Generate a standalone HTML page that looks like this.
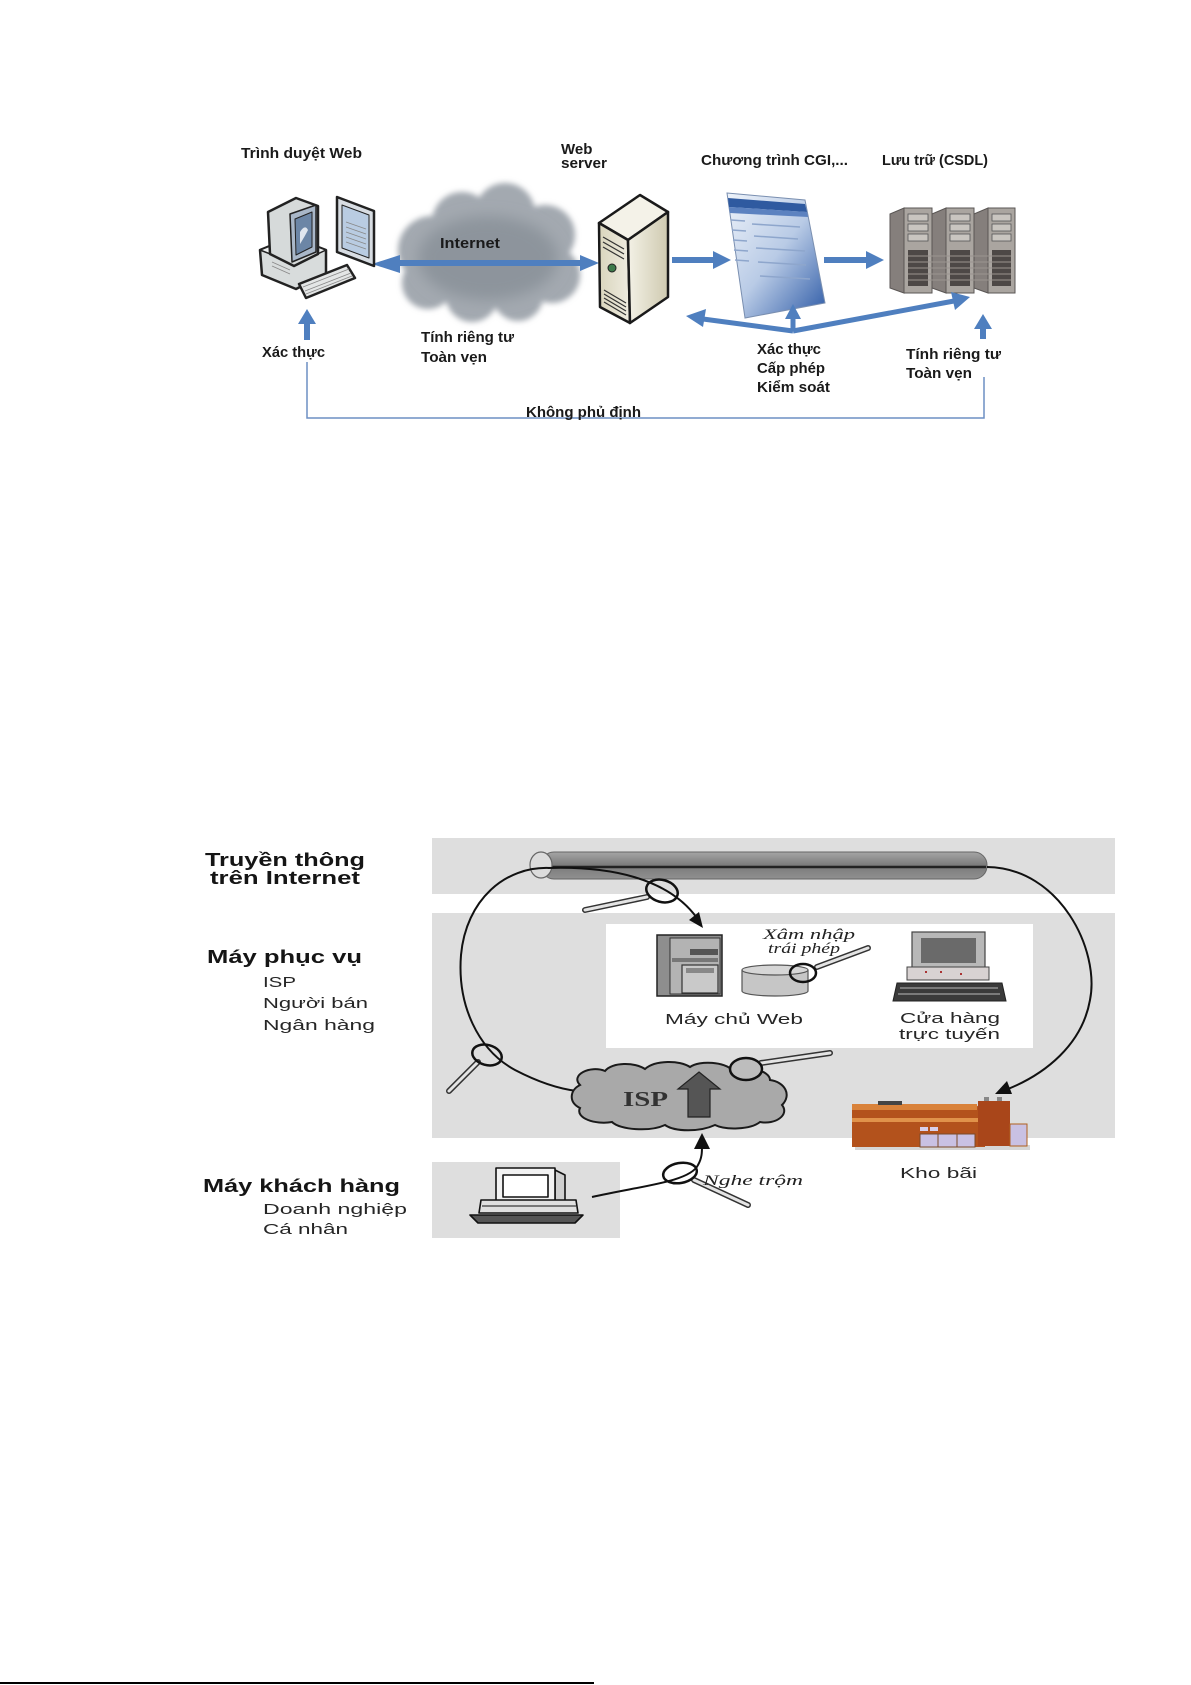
<!DOCTYPE html>
<html><head><meta charset="utf-8"><style>
html,body{margin:0;padding:0;background:#fff;}
svg{display:block;}
.tb{font-family:"Liberation Sans",sans-serif;font-weight:bold;font-size:15px;fill:#1a1a1a;}
.bl{font-family:"Liberation Sans",sans-serif;font-weight:bold;font-size:18px;fill:#151515;}
.rg{font-family:"Liberation Sans",sans-serif;font-size:15px;fill:#262626;}
.hw{font-family:"Liberation Serif",serif;font-style:italic;font-size:15px;fill:#222;}
</style></head><body>
<svg width="1191" height="1685" viewBox="0 0 1191 1685" xmlns="http://www.w3.org/2000/svg">
<defs>
<filter id="blur3" x="-20%" y="-20%" width="140%" height="140%"><feGaussianBlur stdDeviation="3"/></filter>
<filter id="blur6" x="-30%" y="-30%" width="160%" height="160%"><feGaussianBlur stdDeviation="7"/></filter>
<linearGradient id="cgi" x1="0" y1="0" x2="1" y2="1">
<stop offset="0" stop-color="#eef3fa"/><stop offset="0.5" stop-color="#b9cbe6"/><stop offset="1" stop-color="#2d5aa6"/></linearGradient>
<linearGradient id="srvL" x1="0" y1="0" x2="1" y2="0"><stop offset="0" stop-color="#d9d5bd"/><stop offset="1" stop-color="#efece0"/></linearGradient>
<linearGradient id="srvR" x1="0" y1="0" x2="1" y2="0"><stop offset="0" stop-color="#f3f1e6"/><stop offset="1" stop-color="#cfcab0"/></linearGradient>
<linearGradient id="tube" x1="0" y1="0" x2="0" y2="1"><stop offset="0" stop-color="#a5a5a5"/><stop offset="0.5" stop-color="#7a7a7a"/><stop offset="1" stop-color="#909090"/></linearGradient>
</defs>

<!-- ================= TOP DIAGRAM ================= -->
<text class="tb" x="241" y="158" textLength="121" lengthAdjust="spacingAndGlyphs">Trình duyệt Web</text>
<text class="tb" x="561" y="154">Web</text>
<text class="tb" x="561" y="168" textLength="46" lengthAdjust="spacingAndGlyphs">server</text>
<text class="tb" x="701" y="165" textLength="147" lengthAdjust="spacingAndGlyphs">Chương trình CGI,...</text>
<text class="tb" x="882" y="165" textLength="106" lengthAdjust="spacingAndGlyphs">Lưu trữ (CSDL)</text>

<!-- cloud -->
<g filter="url(#blur3)">
<g fill="#a3a9b0">
<circle cx="432" cy="250" r="34"/><circle cx="462" cy="222" r="30"/><circle cx="505" cy="213" r="30"/>
<circle cx="545" cy="235" r="30"/><circle cx="552" cy="275" r="28"/><circle cx="518" cy="296" r="25"/>
<circle cx="472" cy="296" r="26"/><circle cx="428" cy="283" r="26"/><circle cx="490" cy="256" r="48"/>
</g>
</g>
<ellipse cx="488" cy="258" rx="70" ry="42" fill="#8d949c" filter="url(#blur6)"/>
<text class="tb" x="440" y="248" textLength="60" lengthAdjust="spacingAndGlyphs">Internet</text>

<line x1="390" y1="263" x2="584" y2="263" stroke="#4f7fbf" stroke-width="6"/>
<polygon points="372,264 400,255 400,273" fill="#4f7fbf"/>
<polygon points="599,263 580,255 580,271" fill="#4f7fbf"/>

<!-- client computer icon -->
<g stroke="#222" stroke-width="2.5" stroke-linejoin="round">
<polygon points="260,250 292,237 326,250 326,274 296,289 262,275" fill="#d8dcdc"/>
<polygon points="260,250 292,237 326,250 296,264" fill="#eef0f0" stroke-width="1.5"/>
<polygon points="268,212 296,198 318,206 318,254 294,266 270,254" fill="#d6dada"/>
<polygon points="290,214 316,205 316,252 292,262" fill="#a9b7c8" stroke-width="1.5"/>
<polygon points="295,219 312,212 312,247 296,255" fill="#6c86a6" stroke-width="1"/>
<polygon points="337,197 374,211 374,266 337,252" fill="#d8dde3"/>
<polygon points="342,205 369,215 369,258 342,248" fill="#b9cce2" stroke-width="1"/>
<polygon points="299,284 347,265 355,278 306,298" fill="#e4e6e6"/>
</g>
<g stroke="#888" stroke-width="0.8">
<line x1="346" y1="222" x2="366" y2="229"/><line x1="346" y1="227" x2="366" y2="234"/><line x1="346" y1="232" x2="366" y2="239"/><line x1="346" y1="237" x2="366" y2="244"/><line x1="346" y1="242" x2="366" y2="249"/>
<line x1="303" y1="287" x2="349" y2="269"/><line x1="305" y1="291" x2="351" y2="273"/><line x1="306" y1="294" x2="352" y2="276"/>
<line x1="272" y1="262" x2="290" y2="270"/><line x1="272" y1="266" x2="290" y2="274"/>
</g>
<path d="M300 232 q5 -8 8 -2 q-3 6 -8 14" fill="#e0e6ee" stroke="none"/>

<!-- web server tower -->
<g stroke="#1a1a1a" stroke-width="2.5" stroke-linejoin="round">
<polygon points="599,223 640,195 668,212 628,240" fill="#f4f2e8"/>
<polygon points="599,223 628,240 630,323 600,307" fill="url(#srvL)"/>
<polygon points="628,240 668,212 668,297 630,323" fill="url(#srvR)"/>
</g>
<g stroke="#333" stroke-width="1.2">
<line x1="603" y1="237" x2="624" y2="249"/><line x1="603" y1="242" x2="624" y2="254"/><line x1="603" y1="247" x2="624" y2="259"/>
<line x1="604" y1="290" x2="626" y2="303"/><line x1="604" y1="294" x2="626" y2="307"/><line x1="604" y1="298" x2="626" y2="311"/><line x1="604" y1="302" x2="626" y2="315"/>
</g>
<circle cx="612" cy="268" r="4" fill="#3d7a4a" stroke="#222" stroke-width="1"/>

<line x1="672" y1="260" x2="716" y2="260" stroke="#4f7fbf" stroke-width="6"/>
<polygon points="731,260 713,251 713,269" fill="#4f7fbf"/>
<line x1="824" y1="260" x2="868" y2="260" stroke="#4f7fbf" stroke-width="6"/>
<polygon points="884,260 866,251 866,269" fill="#4f7fbf"/>

<!-- CGI screen -->
<polygon points="727,193 805,200 825,303 745,318" fill="url(#cgi)" stroke="#7a8fb0" stroke-width="1"/>
<polygon points="728,198 805,204 807,212 729,207" fill="#2f5aa0"/>
<polygon points="729,207 807,212 808,217 730,213" fill="#5c82c0"/>
<g stroke="#8ea6cc" stroke-width="1.5">
<line x1="731" y1="220" x2="745" y2="221"/><line x1="732" y1="230" x2="746" y2="231"/><line x1="733" y1="240" x2="747" y2="241"/><line x1="734" y1="250" x2="748" y2="251"/><line x1="735" y1="260" x2="749" y2="261"/>
<line x1="752" y1="224" x2="800" y2="227"/><line x1="754" y1="236" x2="798" y2="239"/><line x1="756" y1="248" x2="805" y2="251"/><line x1="758" y1="262" x2="806" y2="265"/><line x1="760" y1="276" x2="810" y2="279"/>
</g>

<!-- storage towers -->
<g stroke="#5a5654" stroke-width="1">
<polygon points="890,214 904,208 904,293 890,288" fill="#857f7c"/>
<rect x="904" y="208" width="28" height="85" fill="#aaa5a0"/>
<polygon points="932,214 946,208 946,293 932,288" fill="#857f7c"/>
<rect x="946" y="208" width="28" height="85" fill="#aaa5a0"/>
<polygon points="974,214 988,208 988,293 974,288" fill="#857f7c"/>
<rect x="988" y="208" width="27" height="85" fill="#aaa5a0"/>
</g>
<g fill="#c9c5c0" stroke="#555" stroke-width="0.8">
<rect x="908" y="214" width="20" height="7"/><rect x="908" y="224" width="20" height="7"/><rect x="908" y="234" width="20" height="7"/>
<rect x="950" y="214" width="20" height="7"/><rect x="950" y="224" width="20" height="7"/><rect x="950" y="234" width="20" height="7"/>
<rect x="992" y="214" width="19" height="7"/><rect x="992" y="224" width="19" height="7"/><rect x="992" y="234" width="19" height="7"/>
</g>
<g fill="#4d4846">
<rect x="908" y="250" width="20" height="36"/><rect x="950" y="250" width="20" height="36"/><rect x="992" y="250" width="19" height="36"/>
</g>
<g stroke="#9a948f" stroke-width="1">
<line x1="908" y1="256" x2="1011" y2="256"/><line x1="908" y1="262" x2="1011" y2="262"/><line x1="908" y1="268" x2="1011" y2="268"/><line x1="908" y1="274" x2="1011" y2="274"/><line x1="908" y1="280" x2="1011" y2="280"/>
</g>

<!-- branch arrows -->
<g stroke="#4f7fbf" stroke-width="5" fill="none">
<line x1="793" y1="331" x2="703" y2="319"/>
<line x1="793" y1="331" x2="793" y2="318"/>
<line x1="793" y1="331" x2="954" y2="301"/>
</g>
<polygon points="686,316 706,309 703,327" fill="#4f7fbf"/>
<polygon points="793,304 785,319 801,319" fill="#4f7fbf"/>
<polygon points="970,297 951,292 955,310" fill="#4f7fbf"/>

<line x1="307" y1="340" x2="307" y2="322" stroke="#4f7fbf" stroke-width="6"/>
<polygon points="307,309 298,324 316,324" fill="#4f7fbf"/>
<line x1="983" y1="339" x2="983" y2="327" stroke="#4f7fbf" stroke-width="6"/>
<polygon points="983,314 974,329 992,329" fill="#4f7fbf"/>

<text class="tb" x="262" y="357" textLength="63" lengthAdjust="spacingAndGlyphs">Xác thực</text>
<text class="tb" x="421" y="342" textLength="93" lengthAdjust="spacingAndGlyphs">Tính riêng tư</text>
<text class="tb" x="421" y="362" textLength="66" lengthAdjust="spacingAndGlyphs">Toàn vẹn</text>
<text class="tb" x="757" y="354" textLength="64" lengthAdjust="spacingAndGlyphs">Xác thực</text>
<text class="tb" x="757" y="373" textLength="68" lengthAdjust="spacingAndGlyphs">Cấp phép</text>
<text class="tb" x="757" y="392" textLength="73" lengthAdjust="spacingAndGlyphs">Kiểm soát</text>
<text class="tb" x="906" y="359" textLength="95" lengthAdjust="spacingAndGlyphs">Tính riêng tư</text>
<text class="tb" x="906" y="378" textLength="66" lengthAdjust="spacingAndGlyphs">Toàn vẹn</text>

<polyline points="307,362 307,418 984,418 984,377" fill="none" stroke="#6d8fc4" stroke-width="1.5"/>
<text class="tb" x="526" y="417" textLength="115" lengthAdjust="spacingAndGlyphs">Không phủ định</text>

<!-- ================= BOTTOM DIAGRAM ================= -->
<rect x="432" y="838" width="683" height="56" fill="#dedede"/>
<rect x="432" y="913" width="683" height="225" fill="#dedede"/>
<rect x="432" y="1162" width="188" height="76" fill="#dedede"/>
<rect x="606" y="924" width="427" height="124" fill="#ffffff"/>

<text class="bl" x="205" y="866" textLength="160" lengthAdjust="spacingAndGlyphs">Truyền thông</text>
<text class="bl" x="210" y="884" textLength="150" lengthAdjust="spacingAndGlyphs">trên Internet</text>
<text class="bl" x="207" y="963" textLength="155" lengthAdjust="spacingAndGlyphs">Máy phục vụ</text>
<text class="rg" x="263" y="987" textLength="33" lengthAdjust="spacingAndGlyphs">ISP</text>
<text class="rg" x="263" y="1008" textLength="105" lengthAdjust="spacingAndGlyphs">Người bán</text>
<text class="rg" x="263" y="1030" textLength="112" lengthAdjust="spacingAndGlyphs">Ngân hàng</text>
<text class="bl" x="203" y="1192" textLength="197" lengthAdjust="spacingAndGlyphs">Máy khách hàng</text>
<text class="rg" x="263" y="1214" textLength="144" lengthAdjust="spacingAndGlyphs">Doanh nghiệp</text>
<text class="rg" x="263" y="1234" textLength="85" lengthAdjust="spacingAndGlyphs">Cá nhân</text>

<!-- tube -->
<rect x="541" y="852" width="446" height="27" rx="13" fill="url(#tube)" stroke="#666" stroke-width="1"/>
<line x1="548" y1="867" x2="986" y2="867" stroke="#222" stroke-width="2.5"/>
<ellipse cx="541" cy="865" rx="11" ry="13" fill="#dcdcdc" stroke="#666" stroke-width="1.2"/>

<g fill="none" stroke="#111" stroke-width="2">
<path d="M550 868 C505 866,466 900,461 955 C457 1005,478 1050,515 1070 C540 1083,560 1089,577 1091"/>
<path d="M548 868 C610 866,668 878,697 918"/>
<path d="M987 867 C1060 868,1100 950,1090 1000 C1082 1045,1045 1074,1008 1089"/>
<path d="M592 1197 C640 1186,690 1182,698 1165 C702 1158,702 1152,702 1146"/>
</g>
<polygon points="703,928 699,912 689,920" fill="#111"/>
<polygon points="995,1094 1012,1094 1007,1081" fill="#111"/>
<polygon points="702,1133 694,1149 710,1149" fill="#111"/>

<!-- web server (bottom) -->
<rect x="657" y="935" width="65" height="61" fill="#8e8e8e" stroke="#222" stroke-width="1.5"/>
<rect x="670" y="938" width="50" height="56" fill="#b3b3b3" stroke="#333" stroke-width="1"/>
<rect x="690" y="949" width="28" height="6" fill="#555"/>
<rect x="672" y="958" width="46" height="4" fill="#777"/>
<rect x="682" y="965" width="36" height="28" fill="#c9c9c9" stroke="#333" stroke-width="1.2"/>
<rect x="686" y="968" width="28" height="5" fill="#888"/>

<path d="M742 970 L742 991 A33 5 0 0 0 808 991 L808 970" fill="#c6c6c6" stroke="#555" stroke-width="1.2"/>
<ellipse cx="775" cy="970" rx="33" ry="5" fill="#d6d6d6" stroke="#555" stroke-width="1.2"/>

<!-- Cửa hàng computer -->
<rect x="912" y="932" width="73" height="36" fill="#b8b8b8" stroke="#444" stroke-width="1.2"/>
<rect x="921" y="938" width="55" height="25" fill="#6a6a6a"/>
<rect x="907" y="967" width="82" height="13" fill="#d8d2d2" stroke="#444" stroke-width="1"/>
<g fill="#a33"><rect x="925" y="971" width="2" height="2"/><rect x="940" y="971" width="2" height="2"/><rect x="960" y="973" width="2" height="2"/></g>
<polygon points="893,1001 1006,1001 1002,983 897,983" fill="#3a3a3a" stroke="#222" stroke-width="1"/>
<g stroke="#bbb" stroke-width="1"><line x1="900" y1="988" x2="998" y2="988"/><line x1="898" y1="994" x2="1000" y2="994"/></g>

<text class="rg" x="665" y="1024" textLength="138" lengthAdjust="spacingAndGlyphs">Máy chủ Web</text>
<text class="rg" x="900" y="1023" textLength="100" lengthAdjust="spacingAndGlyphs">Cửa hàng</text>
<text class="rg" x="899" y="1039" textLength="101" lengthAdjust="spacingAndGlyphs">trực tuyến</text>

<text class="hw" x="763" y="939" textLength="92" lengthAdjust="spacingAndGlyphs">Xâm nhập</text>
<text class="hw" x="768" y="953" textLength="72" lengthAdjust="spacingAndGlyphs">trái phép</text>

<!-- ISP cloud -->
<path d="M580 1085 C570 1075,590 1065,605 1071 C612 1062,635 1062,645 1069 C655 1060,680 1060,690 1067 C700 1060,725 1062,732 1070 C745 1065,770 1070,770 1080 C785 1082,792 1095,782 1105 C790 1115,775 1125,760 1122 C750 1130,725 1130,715 1125 C700 1132,675 1132,665 1125 C650 1132,620 1130,612 1122 C595 1125,575 1118,580 1108 C568 1102,570 1090,580 1085 Z" fill="#a9a9a9" stroke="#1a1a1a" stroke-width="2"/>
<text x="623" y="1106" font-family="'Liberation Serif',serif" font-weight="bold" font-size="21" fill="#333" textLength="45" lengthAdjust="spacingAndGlyphs">ISP</text>
<polygon points="699,1072 720,1089 710,1089 710,1117 688,1117 688,1089 678,1089" fill="#555" stroke="#222" stroke-width="1.2"/>

<!-- warehouse -->
<rect x="855" y="1145" width="175" height="5" fill="#bbb" opacity="0.6"/>
<polygon points="852,1106 975,1104 985,1112 985,1147 852,1147" fill="#b3521c"/>
<rect x="852" y="1104" width="125" height="6" fill="#d9823a"/>
<rect x="852" y="1118" width="133" height="4" fill="#e0924a"/>
<rect x="878" y="1101" width="24" height="4" fill="#444"/>
<rect x="920" y="1127" width="8" height="4" fill="#d8d0ea"/><rect x="930" y="1127" width="8" height="4" fill="#d8d0ea"/>
<rect x="920" y="1134" width="55" height="13" fill="#c9c1e3" stroke="#7a4a2a" stroke-width="1"/>
<line x1="938" y1="1134" x2="938" y2="1147" stroke="#7a4a2a"/><line x1="957" y1="1134" x2="957" y2="1147" stroke="#7a4a2a"/>
<rect x="978" y="1101" width="32" height="45" fill="#a9461a"/>
<rect x="984" y="1097" width="5" height="4" fill="#888"/><rect x="997" y="1097" width="5" height="4" fill="#888"/>
<rect x="1010" y="1124" width="17" height="22" fill="#c9c1e3" stroke="#b0601f" stroke-width="1"/>
<text class="rg" x="900" y="1178" textLength="77" lengthAdjust="spacingAndGlyphs">Kho bãi</text>

<!-- client computer -->
<g stroke="#111" stroke-width="1.6" fill="#f2f2f2" stroke-linejoin="round">
<polygon points="555,1170 565,1175 565,1203 555,1203" fill="#cfcfcf"/>
<rect x="496" y="1168" width="59" height="35"/>
<rect x="503" y="1175" width="45" height="22" fill="#fff"/>
<polygon points="481,1200 576,1200 578,1213 479,1213" fill="#e0e0e0"/>
<line x1="482" y1="1206" x2="576" y2="1206" stroke-width="1"/>
<polygon points="470,1215 583,1215 575,1223 478,1223" fill="#555"/>
</g>

<!-- magnifiers -->
<g stroke-linecap="round" fill="none">
<line x1="647" y1="897" x2="585" y2="910" stroke="#333" stroke-width="6"/>
<line x1="647" y1="897" x2="585" y2="910" stroke="#e4e4e4" stroke-width="3"/>
<line x1="817" y1="967" x2="868" y2="948" stroke="#333" stroke-width="6"/>
<line x1="817" y1="967" x2="868" y2="948" stroke="#e4e4e4" stroke-width="3"/>
<line x1="478" y1="1062" x2="449" y2="1091" stroke="#333" stroke-width="6"/>
<line x1="478" y1="1062" x2="449" y2="1091" stroke="#e4e4e4" stroke-width="3"/>
<line x1="761" y1="1063" x2="830" y2="1053" stroke="#333" stroke-width="6"/>
<line x1="761" y1="1063" x2="830" y2="1053" stroke="#e4e4e4" stroke-width="3"/>
<line x1="694" y1="1180" x2="748" y2="1205" stroke="#333" stroke-width="6"/>
<line x1="694" y1="1180" x2="748" y2="1205" stroke="#e4e4e4" stroke-width="3"/>
</g>
<g stroke="#111" stroke-width="2.5" fill="none">
<ellipse cx="662" cy="891" rx="16" ry="11" transform="rotate(15 662 891)"/>
<ellipse cx="803" cy="973" rx="13" ry="9"/>
<ellipse cx="487" cy="1055" rx="15" ry="10" transform="rotate(15 487 1055)"/>
<ellipse cx="746" cy="1069" rx="16" ry="11" fill="#bdbdbd"/>
<ellipse cx="680" cy="1173" rx="17" ry="10" transform="rotate(-10 680 1173)"/>
</g>
<text class="hw" x="703" y="1185" textLength="100" lengthAdjust="spacingAndGlyphs">Nghe trộm</text>

<rect x="0" y="1682" width="594" height="2" fill="#000"/>
</svg>
</body></html>
